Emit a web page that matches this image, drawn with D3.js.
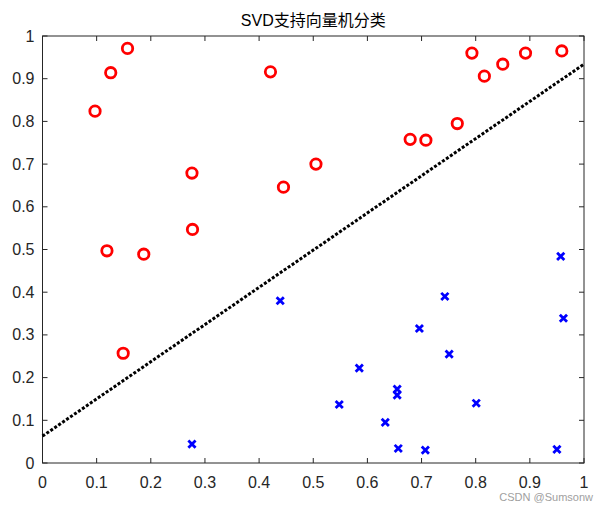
<!DOCTYPE html>
<html>
<head>
<meta charset="utf-8">
<script src="https://cdn.jsdelivr.net/npm/d3@7"></script>
<style>
body{margin:0;background:#fff;}
svg{display:block;}
text{font-family:"Liberation Sans",Arial,"Noto Sans CJK SC",sans-serif;}
</style>
</head>
<body>
<svg id="chart" width="608" height="505"></svg>
<script>
const titleText = "SVD支持向量机分类";
const xTicks = [0,0.1,0.2,0.3,0.4,0.5,0.6,0.7,0.8,0.9,1];
const yTicks = [0,0.1,0.2,0.3,0.4,0.5,0.6,0.7,0.8,0.9,1];
const classAx = [0.097,0.126,0.157,0.276,0.277,0.421,0.445,0.505,0.679,0.708,0.766,0.793,0.816,0.850,0.892,0.959,0.119,0.187,0.149];
const classAy = [0.824,0.914,0.971,0.679,0.547,0.916,0.646,0.700,0.758,0.756,0.795,0.960,0.906,0.934,0.960,0.965,0.497,0.489,0.257];
const classBx = [0.276,0.439,0.548,0.585,0.633,0.655,0.655,0.657,0.696,0.707,0.743,0.751,0.801,0.950,0.962,0.957];
const classBy = [0.044,0.380,0.137,0.222,0.095,0.173,0.159,0.034,0.315,0.030,0.390,0.255,0.140,0.032,0.339,0.484];
const boundaryX = [0,1];
const boundaryY = [0.063,0.934];
const watermark = "CSDN @Sumsonw";

const svg = d3.select("#chart");
const L=42.5, R=584, T=36, B=463;
const x = d3.scaleLinear().domain([0,1]).range([L,R]);
const y = d3.scaleLinear().domain([0,1]).range([B,T]);

svg.append("rect").attr("x",L).attr("y",T).attr("width",R-L).attr("height",B-T)
  .attr("fill","none").attr("stroke","#262626").attr("stroke-width",1);

const tl = 5;
const g = svg.append("g").attr("stroke","#262626").attr("stroke-width",1);
xTicks.forEach(t=>{
  g.append("line").attr("x1",x(t)).attr("x2",x(t)).attr("y1",B).attr("y2",B-tl);
  g.append("line").attr("x1",x(t)).attr("x2",x(t)).attr("y1",T).attr("y2",T+tl);
});
yTicks.forEach(t=>{
  g.append("line").attr("y1",y(t)).attr("y2",y(t)).attr("x1",L).attr("x2",L+tl);
  g.append("line").attr("y1",y(t)).attr("y2",y(t)).attr("x1",R).attr("x2",R-tl);
});

const fmt = d=> d===0?"0":(d===1?"1":d3.format(".1f")(d));
svg.append("g").selectAll("text").data(xTicks).join("text")
  .attr("x",d=>x(d)).attr("y",B+25).attr("text-anchor","middle")
  .attr("font-size",16).attr("fill","#262626").text(fmt);
svg.append("g").selectAll("text").data(yTicks).join("text")
  .attr("x",L-8).attr("y",d=>y(d)+5.5).attr("text-anchor","end")
  .attr("font-size",16).attr("fill","#262626").text(fmt);

svg.append("text").attr("x",(L+R)/2).attr("y",26).attr("text-anchor","middle")
  .attr("font-size",16).attr("fill","#000").text(titleText);

const line = d3.line().x(d=>x(d[0])).y(d=>y(d[1]));
svg.append("path").datum(boundaryX.map((v,i)=>[v,boundaryY[i]]))
  .attr("d",line).attr("fill","none").attr("stroke","#000")
  .attr("stroke-width",3).attr("stroke-dasharray","3,1.8");

svg.append("g").selectAll("circle").data(classAx.map((v,i)=>[v,classAy[i]])).join("circle")
  .attr("cx",d=>x(d[0])).attr("cy",d=>y(d[1])).attr("r",5.2)
  .attr("fill","none").attr("stroke","#ff0000").attr("stroke-width",2.8);

const s = 3.6;
svg.append("g").selectAll("path").data(classBx.map((v,i)=>[v,classBy[i]])).join("path")
  .attr("d",d=>{const cx=x(d[0]),cy=y(d[1]);
    return `M${cx-s},${cy-s}L${cx+s},${cy+s}M${cx-s},${cy+s}L${cx+s},${cy-s}`;})
  .attr("stroke","#0000ff").attr("stroke-width",2.8).attr("fill","none");

svg.append("text").attr("x",593).attr("y",501).attr("text-anchor","end")
  .attr("font-size",11).attr("fill","#a0a0a0").text(watermark);
</script>
</body>
</html>
